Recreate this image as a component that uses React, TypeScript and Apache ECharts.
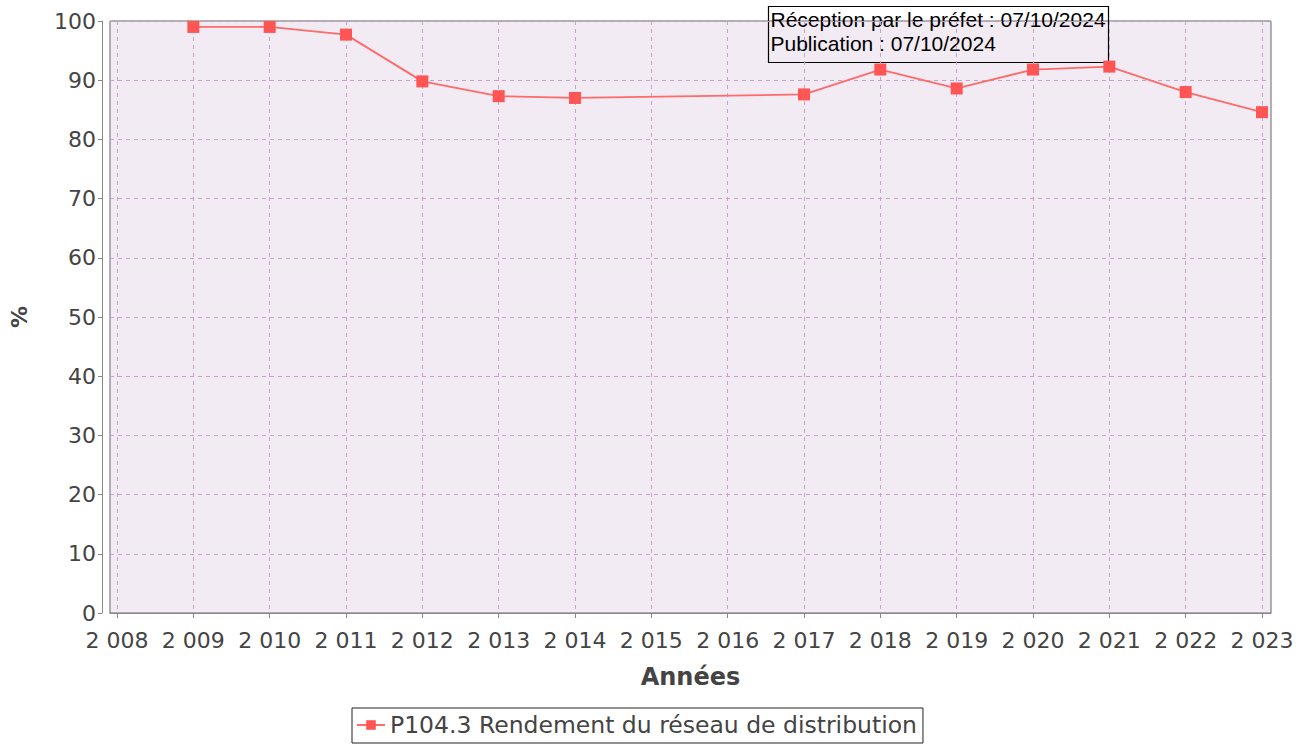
import React, { useEffect, useRef } from "react";
import * as echarts from "echarts";

const years = [2009, 2010, 2011, 2012, 2013, 2014, 2017, 2018, 2019, 2020, 2021, 2022, 2023];
const rendement = [99.0, 99.0, 97.7, 89.8, 87.3, 87.0, 87.6, 91.8, 88.6, 91.8, 92.3, 88.0, 84.6];
const yearTicks = [2008, 2009, 2010, 2011, 2012, 2013, 2014, 2015, 2016, 2017, 2018, 2019, 2020, 2021, 2022, 2023];
const seriesName = "P104.3 Rendement du réseau de distribution";
const noteLines = ["Réception par le préfet : 07/10/2024", "Publication : 07/10/2024"];

const fmtYear = (v: number) => {
  const s = String(Math.round(v));
  return s.slice(0, 1) + " " + s.slice(1);
};

export default function App() {
  const ref = useRef<HTMLDivElement>(null);
  useEffect(() => {
    if (!ref.current) return;
    const chart = echarts.init(ref.current, undefined, { renderer: "svg" });
    const font = "DejaVu Sans";
    const grid = { color: "#c8a2cc", type: [4, 4] as any, width: 1 };
    chart.setOption({
      animation: false,
      backgroundColor: "#ffffff",
      grid: {
        left: 109,
        right: 36,
        top: 21,
        bottom: 131,
        show: true,
        backgroundColor: "#f3ebf3",
        borderColor: "#666666",
        borderWidth: 1,
      },
      xAxis: {
        type: "value",
        min: 2007.908,
        max: 2023.118,
        offset: 8,
        name: "Années",
        nameLocation: "middle",
        nameGap: 44,
        nameTextStyle: { fontFamily: font, fontSize: 24, fontWeight: "bold", color: "#444444" },
        axisLine: { show: true, lineStyle: { color: "#888888", width: 1 } },
        axisTick: { show: true, length: 5, customValues: yearTicks, lineStyle: { color: "#888888" } },
        axisLabel: {
          customValues: yearTicks,
          formatter: fmtYear,
          fontFamily: font,
          fontSize: 22,
          color: "#444444",
          margin: 8,
          showMinLabel: true,
          showMaxLabel: true,
        },
        splitLine: { show: true, lineStyle: grid },
      },
      yAxis: {
        type: "value",
        min: 0,
        max: 100,
        interval: 10,
        offset: 8,
        name: "%",
        nameLocation: "middle",
        nameRotate: 90,
        nameGap: 72,
        nameTextStyle: { fontFamily: font, fontSize: 22, fontWeight: "bold", color: "#444444" },
        axisLine: { show: true, lineStyle: { color: "#888888", width: 1 } },
        axisTick: { show: true, length: 4, lineStyle: { color: "#888888" } },
        axisLabel: { fontFamily: font, fontSize: 22, color: "#444444", margin: 6 },
        splitLine: { show: true, lineStyle: grid },
      },
      legend: {
        left: 352,
        top: 708,
        padding: [5, 6, 6, 4],
        borderColor: "#222222",
        borderWidth: 1,
        itemWidth: 28,
        itemHeight: 12,
        itemGap: 6,
        textStyle: { fontFamily: font, fontSize: 23.5, color: "#444444" },
        data: [seriesName],
      },
      series: [
        {
          name: seriesName,
          type: "line",
          data: years.map((y, i) => [y, rendement[i]]),
          symbol: "rect",
          symbolSize: 12,
          itemStyle: { color: "#ff5555" },
          lineStyle: { color: "#ff6a6a", width: 1.8 },
          clip: false,
        },
      ],
      graphic: [
        {
          type: "group",
          left: 766,
          top: 4,
          z: 100,
          children: [
            {
              type: "rect",
              shape: { x: 0, y: 0, width: 340, height: 56 },
              style: { fill: "none", stroke: "#000000", lineWidth: 1.2 },
            },
            {
              type: "text",
              x: 2,
              y: 2,
              style: { text: noteLines[0], font: "21px 'Liberation Sans'", fill: "#000000" },
            },
            {
              type: "text",
              x: 2,
              y: 26,
              style: { text: noteLines[1], font: "21px 'Liberation Sans'", fill: "#000000" },
            },
          ],
        },
      ],
    });
    return () => chart.dispose();
  }, []);
  return (
    <div
      ref={ref}
      style={{ position: "fixed", left: 0, top: 0, width: 1307, height: 744, background: "#fff" }}
    />
  );
}
